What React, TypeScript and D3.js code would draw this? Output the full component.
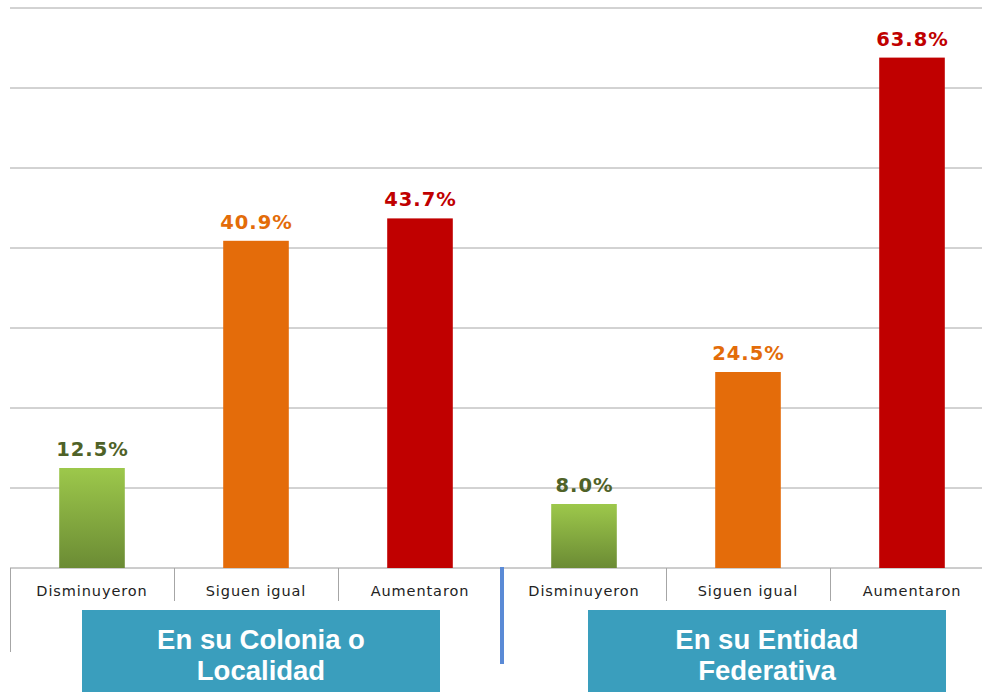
import React from "react";
import * as d3 from "d3";

const categories = ["Disminuyeron", "Siguen igual", "Aumentaron", "Disminuyeron", "Siguen igual", "Aumentaron"];
const values = [12.5, 40.9, 43.7, 8.0, 24.5, 63.8];
const barKinds = ["green", "orange", "red", "green", "orange", "red"];
const yTicks = [0, 10, 20, 30, 40, 50, 60, 70];
const groupTitles = [["En su Colonia o", "Localidad"], ["En su Entidad", "Federativa"]];

const W = 982, H = 692;
const left = 10, right = 994, top = 8, base = 568;

export default function App() {
  const x = d3.scaleBand<number>().domain(d3.range(categories.length)).range([left, right]).paddingInner(0).paddingOuter(0);
  const y = d3.scaleLinear().domain([0, 70]).range([base, top]);
  const bw = x.bandwidth() * 0.4;
  const fillFor = (k: string) => (k === "green" ? "url(#gGreen)" : k === "orange" ? "#e46c0a" : "#c00000");
  const labelColor = (k: string) => (k === "green" ? "#4f6228" : k === "orange" ? "#e36c09" : "#c00000");
  const groupX = [x(0)! + 72, x(3)! + 86];
  const boxW = 358;

  return (
    <svg width={W} height={H} style={{ position: "absolute", left: 0, top: 0 }}>
      <defs>
        <linearGradient id="gGreen" x1="0" y1="0" x2="0" y2="1">
          <stop offset="0" stopColor="#9dc84b" />
          <stop offset="1" stopColor="#6b8b34" />
        </linearGradient>
      </defs>
      <rect width={W} height={H} fill="#fff" />
      {yTicks.map((t) => (
        <line key={t} x1={left} x2={W} y1={y(t)} y2={y(t)} stroke={t === 0 ? "#9a9a9a" : "#a6a6a6"} strokeWidth={1} />
      ))}
      <line x1={left + 0.5} x2={left + 0.5} y1={base} y2={652} stroke="#a6a6a6" />
      {d3.range(1, categories.length).filter((i) => i !== 3).map((i) => (
        <line key={i} x1={x(i)! + 0.5} x2={x(i)! + 0.5} y1={base} y2={601} stroke="#a6a6a6" />
      ))}
      <rect x={500} y={567} width={4} height={97} fill="#5a8ad6" />
      {values.map((v, i) => (
        <g key={i}>
          <rect x={x(i)! + (x.bandwidth() - bw) / 2} y={y(v)} width={bw} height={base - y(v)} fill={fillFor(barKinds[i])} />
          <text x={x(i)! + x.bandwidth() / 2 + 0.5} y={y(v) - 12} textAnchor="middle" fontFamily="DejaVu Sans, Verdana, sans-serif" fontWeight="bold" fontSize={19.5} letterSpacing={1} fill={labelColor(barKinds[i])}>
            {v.toFixed(1)}%
          </text>
          <text x={x(i)! + x.bandwidth() / 2} y={596} textAnchor="middle" fontFamily="DejaVu Sans, Verdana, sans-serif" fontSize={14.5} letterSpacing={0.9} fill="#222">
            {categories[i]}
          </text>
        </g>
      ))}
      {groupTitles.map((lines, g) => (
        <g key={g}>
          <rect x={groupX[g]} y={610} width={boxW} height={H - 610} fill="#3a9ebd" />
          {lines.map((ln, j) => (
            <text key={j} x={groupX[g] + boxW / 2} y={649 + j * 31} textAnchor="middle" fontFamily="Liberation Sans, Arial, sans-serif" fontWeight="bold" fontSize={27.5} fill="#fff">
              {ln}
            </text>
          ))}
        </g>
      ))}
    </svg>
  );
}
